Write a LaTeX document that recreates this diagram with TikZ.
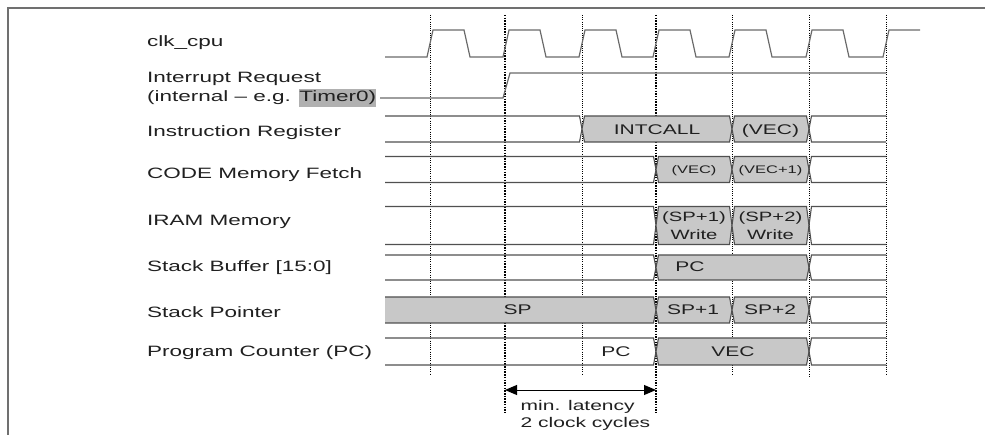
\documentclass[tikz,border=0pt]{standalone}
\usepackage{fontspec}
\setmainfont{Liberation Sans}
\usepackage{graphicx}
\usetikzlibrary{arrows.meta}
\definecolor{busgray}{HTML}{C8C8C8}
\definecolor{linegray}{HTML}{505050}
\definecolor{clkgray}{HTML}{6A6A6A}
\definecolor{framegray}{HTML}{707070}
\definecolor{hl}{HTML}{B0B0B0}
\definecolor{txt}{HTML}{202020}
\newcommand\Wd[1]{\scalebox{1.5}[1]{#1}}
\newcommand\tdGray[4]{\filldraw[gseg] ({#1+2.5},#3) -- ({#2-2.5},#3) -- (#2,{(#3+#4)/2}) -- ({#2-2.5},#4) -- ({#1+2.5},#4) -- (#1,{(#3+#4)/2}) -- cycle;}
\newcommand\tdOpenL[3]{\draw[bus] (385,#2) -- ({#1-2.5},#2) -- (#1,{(#2+#3)/2}) -- ({#1-2.5},#3) -- (385,#3);}
\newcommand\tdOpenR[3]{\draw[bus] (886,#2) -- ({#1+2.5},#2) -- (#1,{(#2+#3)/2}) -- ({#1+2.5},#3) -- (886,#3);}
\begin{document}
\begin{tikzpicture}[x=1pt,y=-1pt,
  lab/.style={anchor=base west, inner sep=0pt, text=txt, font=\fontsize{15}{18}\selectfont},
  bt/.style={anchor=base, inner sep=0pt, text=txt, font=\fontsize{14}{17}\selectfont},
  bts/.style={anchor=base, inner sep=0pt, text=txt, font=\fontsize{11}{13}\selectfont},
  bus/.style={draw=linegray, line width=1.1pt},
  gseg/.style={draw=linegray, fill=busgray, line width=1.1pt},
  clk/.style={draw=clkgray, line width=1.2pt},
  grid/.style={draw=black, line width=1pt, dash pattern=on 1pt off 1.2pt},
  gridthick/.style={draw=black, line width=1.8pt, dash pattern=on 1.5pt off 1.2pt}]
\useasboundingbox (0,0) rectangle (985,435);
% frame
\draw[framegray, line width=1.8pt] (8,435) -- (8,8) -- (985,8);
% dotted guide lines
\foreach \n/\x/\yb in {1/430/375,3/582/375,5/732/375,6/809/377,7/886/375}{
  \coordinate (t\n) at (\x,15);
  \coordinate (b\n) at (\x,\yb);
  \draw[grid] (t\n) -- (b\n);
}
\foreach \n/\x in {2/505,4/656}{
  \coordinate (t\n) at (\x,15);
  \coordinate (b\n) at (\x,413);
  \draw[gridthick] (t\n) -- (b\n);
}
% labels
\node[lab] (l1) at (147,47) {\Wd{clk\_cpu}};
\node[lab] (l2) at (147,83) {\Wd{Interrupt Request}};
\node[lab] (l2b) at (147,102) {\Wd{(internal – e.g. {\fboxsep=0pt\colorbox{hl}{\strut Timer0)}}}};
\node[lab] (l3) at (147,137) {\Wd{Instruction Register}};
\node[lab] (l4) at (147,179) {\Wd{CODE Memory Fetch}};
\node[lab] (l5) at (147,225.7) {\Wd{IRAM Memory}};
\node[lab] (l6) at (147,271.7) {\Wd{Stack Buffer [15:0]}};
\node[lab] (l7) at (147,317.7) {\Wd{Stack Pointer}};
\node[lab] (l8) at (147,356) {\Wd{Program Counter (PC)}};
% clock
\draw[clk] (385,57)
  -- (427,57) -- (433,30) -- (464,30) -- (470,57)
  -- (503,57) -- (509,30) -- (540,30) -- (546,57)
  -- (579,57) -- (585,30) -- (616,30) -- (622,57)
  -- (653,57) -- (659,30) -- (690,30) -- (696,57)
  -- (729,57) -- (735,30) -- (766,30) -- (772,57)
  -- (806,57) -- (812,30) -- (843,30) -- (849,57)
  -- (883,57) -- (889,30) -- (920,30);
% interrupt request
\draw[clk] (380,98) -- (503,98) -- (510,73) -- (886,73);
% Instruction Register
\tdOpenL{582}{116}{142}
\tdGray{582}{732}{116}{142}
\tdGray{732}{809}{116}{142}
\tdOpenR{809}{116}{142}
\node[bt] (ir1) at (657,135) {\Wd{INTCALL}};
\node[bt] (ir2) at (770.5,135) {\Wd{(VEC)}};
% CODE Memory Fetch
\tdOpenL{656}{156.5}{182.5}
\tdGray{656}{732}{156.5}{182.5}
\tdGray{732}{809}{156.5}{182.5}
\tdOpenR{809}{156.5}{182.5}
\node[bts] (cm1) at (694,174) {\Wd{(VEC)}};
\node[bts] (cm2) at (770.5,174) {\Wd{(VEC+1)}};
% IRAM Memory
\tdOpenL{656}{206.5}{244.5}
\tdGray{656}{732}{206.5}{244.5}
\tdGray{732}{809}{206.5}{244.5}
\tdOpenR{809}{206.5}{244.5}
\node[bt, align=center, font=\fontsize{13.5}{17.6}\selectfont] (im1) at (694,239.3) {\Wd{(SP+1)}\\\Wd{Write}};
\node[bt, align=center, font=\fontsize{13.5}{17.6}\selectfont] (im2) at (770.5,239.3) {\Wd{(SP+2)}\\\Wd{Write}};
% Stack Buffer
\tdOpenL{656}{255}{280}
\tdGray{656}{809}{255}{280}
\tdOpenR{809}{255}{280}
\node[bt] (sb1) at (690,272) {\Wd{PC}};
% Stack Pointer
\filldraw[gseg] (385,297) -- (653.5,297) -- (656,310) -- (653.5,323) -- (385,323);
\tdGray{656}{732}{297}{323}
\tdGray{732}{809}{297}{323}
\tdOpenR{809}{297}{323}
\node[bt] (sp0) at (517.5,315) {\Wd{SP}};
\node[bt] (sp1) at (693,315) {\Wd{SP+1}};
\node[bt] (sp2) at (770,315) {\Wd{SP+2}};
% Program Counter
\tdOpenL{656}{338}{365}
\tdGray{656}{809}{338}{365}
\tdOpenR{809}{338}{365}
\node[bt] (pc0) at (616,357) {\Wd{PC}};
\node[bt] (pc1) at (733,357) {\Wd{VEC}};
% latency arrow
\coordinate (a1) at (505,390);
\coordinate (a2) at (656,390);
\draw[black, line width=1pt, {Triangle[length=12pt,width=10pt]}-{Triangle[length=12pt,width=10pt]}] (a1) -- (a2);
\node[lab, font=\fontsize{14}{17}\selectfont] (m1) at (520.5,410) {\Wd{min. latency}};
\node[lab, font=\fontsize{14}{17}\selectfont] (m2) at (520.5,427) {\Wd{2 clock cycles}};
\end{tikzpicture}
\end{document}
